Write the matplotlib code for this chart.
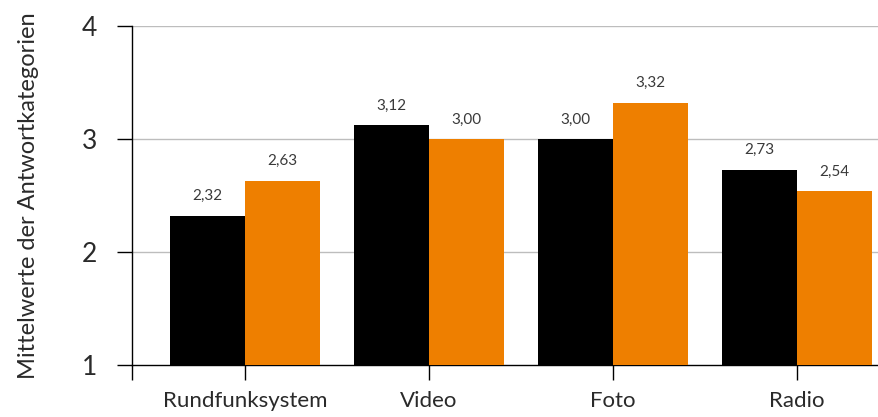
import numpy as np
import matplotlib.pyplot as plt

# Mittelwerte je Kategorie, zwei Gruppen
kategorien = ["Rundfunksystem", "Video", "Foto", "Radio"]
gruppe_a = [2.32, 3.12, 3.00, 2.73]
gruppe_b = [2.63, 3.00, 3.32, 2.54]
y_ticks = [1, 2, 3, 4]

farbe_a = "#000000"
farbe_b = "#ee7f00"
textfarbe = "#2a2a2a"

plt.rcParams['font.family'] = ['Lato', 'DejaVu Sans']

fig = plt.figure(figsize=(8.79, 4.17), dpi=100)
ax = fig.add_axes([0.150, 0.1247, 0.850, 0.8129])

x = np.arange(len(kategorien))
w = 0.408
ax.bar(x - w / 2, gruppe_a, w, bottom=0, color=farbe_a, zorder=3)
ax.bar(x + w / 2, gruppe_b, w, bottom=0, color=farbe_b, zorder=3)

for xs, vals in ((x - w / 2, gruppe_a), (x + w / 2, gruppe_b)):
    for xi, v in zip(xs, vals):
        ax.annotate(f"{v:.2f}".replace(".", ","), (xi, v), xytext=(0, 9),
                    textcoords="offset points", ha="center", va="bottom",
                    fontsize=11, color="#3a3a3a")

xl = (-0.614, 3.446)
ax.set_xlim(*xl)
ax.set_ylim(1, 4)

ax.set_yticks(y_ticks)
ax.set_yticklabels([str(t) for t in y_ticks], fontsize=19, color=textfarbe)
ax.set_xticks([xl[0]] + list(x))
ax.set_xticklabels([""] + kategorien, fontsize=16, color=textfarbe)
ax.tick_params(axis="y", length=11, width=1, pad=14, color="#000000")
ax.tick_params(axis="x", length=11, width=1, pad=8, color="#000000")

for t in y_ticks[1:]:
    ax.axhline(t, color="#bdbdbd", lw=1, zorder=1)

for s in ("top", "right"):
    ax.spines[s].set_visible(False)
ax.spines["left"].set_linewidth(1)
ax.spines["bottom"].set_linewidth(1)

ax.set_ylabel("Mittelwerte der Antwortkategorien", fontsize=17,
              color=textfarbe, labelpad=31)

fig.savefig("out.png", dpi=100)
